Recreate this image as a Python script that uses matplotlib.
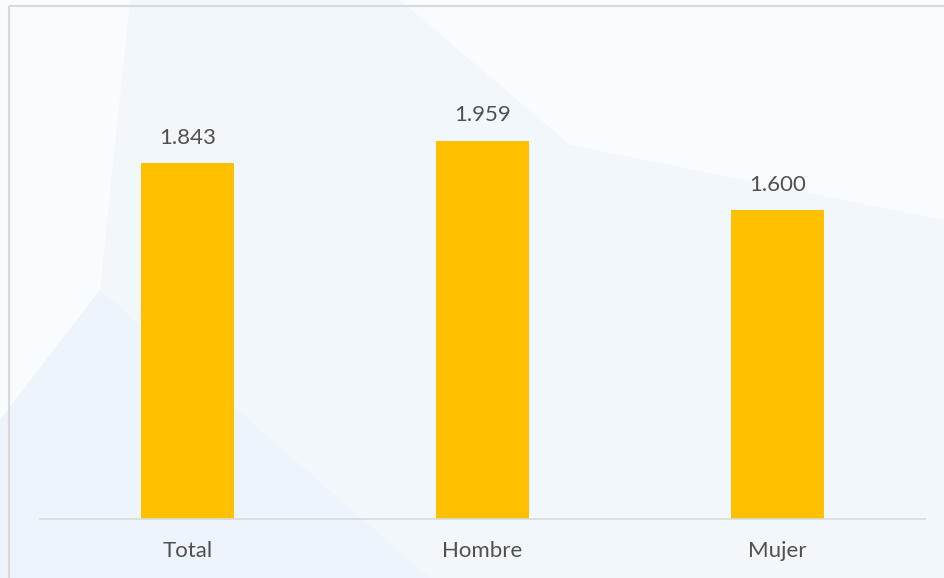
import matplotlib.pyplot as plt
import matplotlib.patches as mpatches

categories = ['Total', 'Hombre', 'Mujer']
values = [1843, 1959, 1600]

bar_color = '#FFC000'
text_color = '#505050'

plt.rcParams['font.family'] = ['Lato', 'DejaVu Sans']

fig = plt.figure(figsize=(9.44, 5.78), dpi=100)
fig.patch.set_facecolor('#f2f7fc')

# background layer: faint shapes and the frame
bg = fig.add_axes([0, 0, 1, 1], zorder=-10)
bg.set_xlim(0, 944)
bg.set_ylim(578, 0)
bg.axis('off')
bg.add_patch(mpatches.Polygon([(0, 0), (130, 0), (100, 290), (0, 420)],
                              facecolor='#f9fcff', edgecolor='none'))
bg.add_patch(mpatches.Polygon([(400, 0), (944, 0), (944, 220), (570, 145)],
                              facecolor='#f9fcff', edgecolor='none'))
bg.add_patch(mpatches.Polygon([(0, 420), (100, 290), (430, 578), (0, 578)],
                              facecolor='#eef4fb', edgecolor='none'))
bg.add_patch(mpatches.Rectangle((9, 6), 960, 600, fill=False,
                                edgecolor='#d9d9d9', linewidth=1.5))

ax = fig.add_axes([40 / 944, 59 / 578, 885 / 944, 502 / 578], zorder=1)
ax.set_facecolor('none')

x = list(range(len(categories)))
bars = ax.bar(x, values, width=0.315, color=bar_color)
ax.set_xlim(-0.5, len(categories) - 0.5)
ax.set_ylim(0, 2600)

for b, v in zip(bars, values):
    ax.annotate(f'{v:,}'.replace(',', '.'), (b.get_x() + b.get_width() / 2, v),
                xytext=(0, 11), textcoords='offset points', ha='center', va='bottom',
                fontsize=16, color=text_color)

ax.set_xticks(x)
ax.set_xticklabels(categories, fontsize=16, color=text_color)
ax.tick_params(axis='x', length=0, pad=16)
ax.set_yticks([])
for s in ['top', 'right', 'left']:
    ax.spines[s].set_visible(False)
ax.spines['bottom'].set_color('#d9d9d9')
ax.spines['bottom'].set_linewidth(1.2)

plt.savefig('out.png', dpi=100, facecolor=fig.get_facecolor())
